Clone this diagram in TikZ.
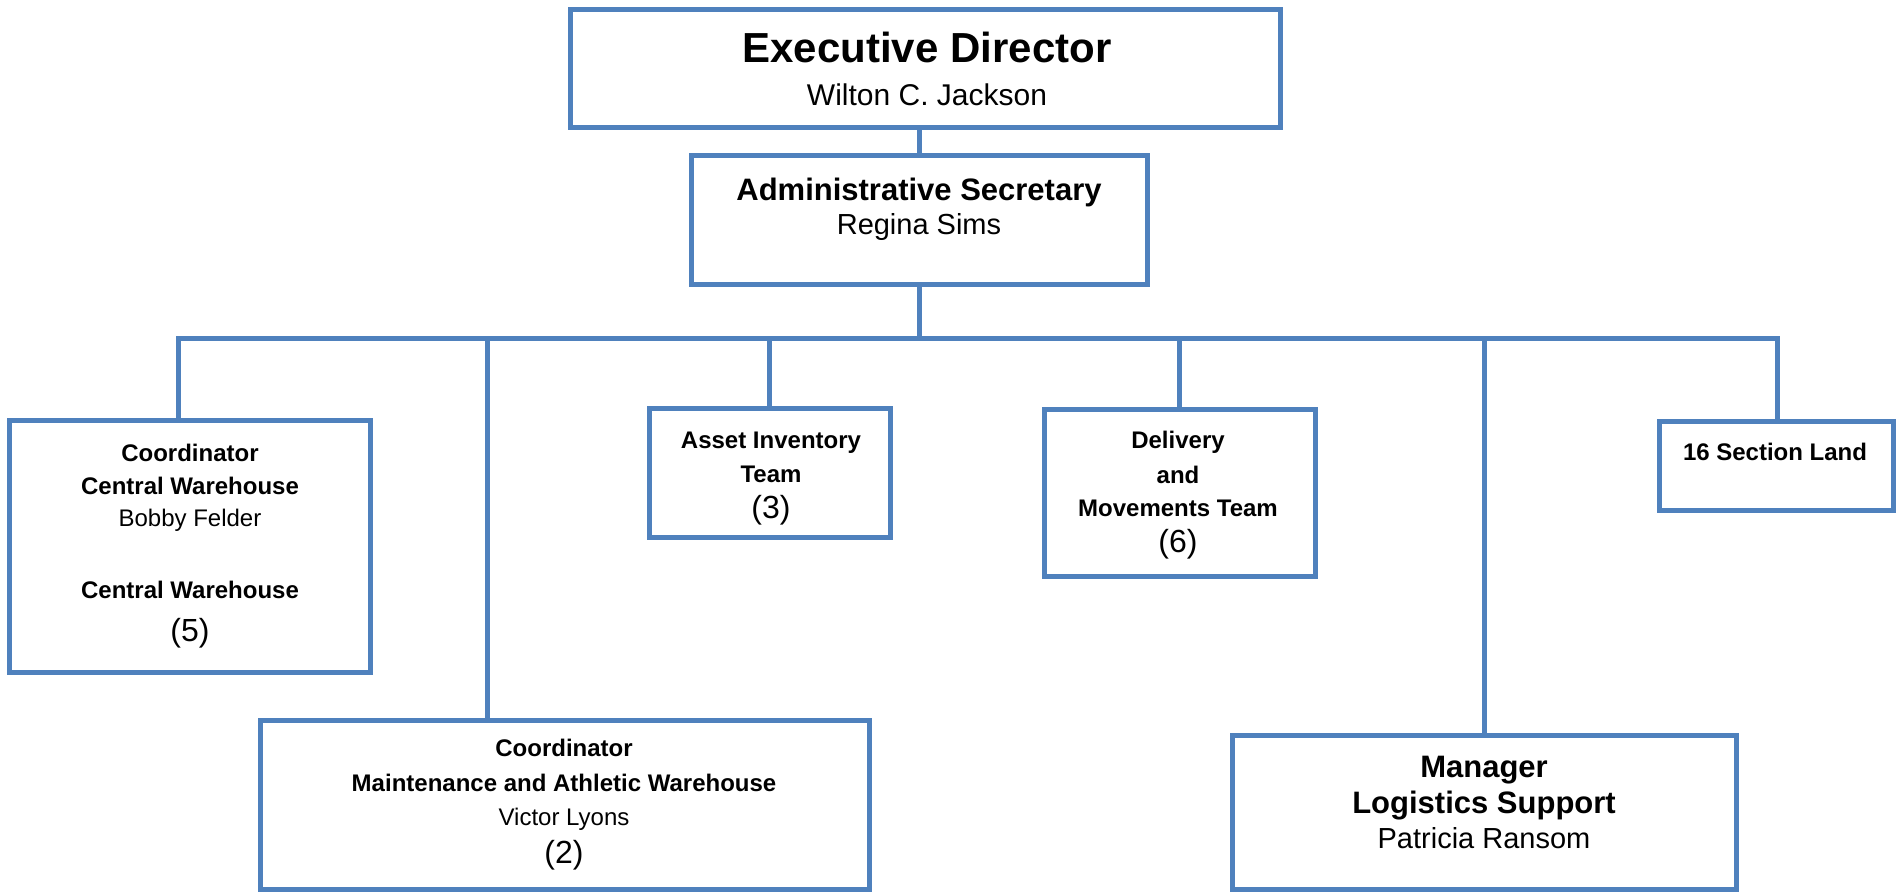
\documentclass[tikz,border=0pt]{standalone}
\usepackage{fontspec}
\setmainfont{Liberation Sans}
\usetikzlibrary{fit}
\definecolor{bblue}{HTML}{4F81BD}
\begin{document}
\begin{tikzpicture}[x=1pt,y=-1pt,
  box/.style={draw=bblue, line width=5pt, inner sep=0pt, outer sep=0pt},
  conn/.style={draw=bblue, line width=5pt},
  txt/.style={anchor=base, inner sep=0pt, outer sep=0pt, text=black},
  b42/.style={txt, font=\bfseries\fontsize{42}{48}\selectfont},
  r30/.style={txt, font=\fontsize{30}{36}\selectfont},
  b31/.style={txt, font=\bfseries\fontsize{31}{36}\selectfont},
  r29/.style={txt, font=\fontsize{29}{34}\selectfont},
  b24/.style={txt, font=\bfseries\fontsize{24}{28}\selectfont},
  r24/.style={txt, font=\fontsize{24}{28}\selectfont},
  n32/.style={txt, font=\fontsize{32}{36}\selectfont}]
\useasboundingbox (0,0) rectangle (1902,892);
\fill[white] (0,0) rectangle (1902,892);

% boxes
\node[box, fit={(570,9) (1280,127)}] (exec) {};
\node[box, fit={(691,155) (1147,284)}] (admin) {};
\node[box, fit={(9,420) (370,672)}] (cw) {};
\node[box, fit={(649,408) (890,537)}] (asset) {};
\node[box, fit={(1044,409) (1315,576)}] (deliv) {};
\node[box, fit={(1659,421) (1893,510)}] (sixteen) {};
\node[box, fit={(260,720) (869,889)}] (maint) {};
\node[box, fit={(1232,735) (1736,889)}] (mgr) {};

% connectors
\coordinate (busL) at (178,338);
\coordinate (busR) at (1777,338);
\coordinate (jm) at (487,338);
\draw[conn] (admin.north) -- (admin.north |- exec.south);
\draw[conn] (admin.south) -- (admin.south |- busL);
\draw[conn] (busL |- cw.north) -- (busL) -- (busR) -- (busR |- sixteen.north);
\draw[conn] (jm) -- (jm |- maint.north);
\draw[conn] (asset.north |- busL) -- (asset.north);
\draw[conn] (deliv.north |- busL) -- (deliv.north);
\draw[conn] (mgr.north |- busL) -- (mgr.north);

% texts
\node[b42] (execT) at (927,62) {Executive Director};
\node[r30] (execN) at (927,105) {Wilton C. Jackson};
\node[b31] (adminT) at (919,200) {Administrative Secretary};
\node[r29] (adminN) at (919,234) {Regina Sims};

\node[b24] (cwA) at (190,461) {Coordinator};
\node[b24] (cwB) at (190,494) {Central Warehouse};
\node[r24] (cwC) at (190,526) {Bobby Felder};
\node[b24] (cwD) at (190,598) {Central Warehouse};
\node[n32] (cwE) at (190,641) {(5)};

\node[b24] (assetA) at (771,448) {Asset Inventory};
\node[b24] (assetB) at (771,482) {Team};
\node[n32] (assetC) at (771,518) {(3)};

\node[b24] (delivA) at (1178,448) {Delivery};
\node[b24] (delivB) at (1178,483) {and};
\node[b24] (delivC) at (1178,516) {Movements Team};
\node[n32] (delivD) at (1178,552) {(6)};

\node[b24] (sixteenT) at (1775,460) {16 Section Land};

\node[b24] (maintA) at (564,756) {Coordinator};
\node[b24] (maintB) at (564,791) {Maintenance and Athletic Warehouse};
\node[r24] (maintC) at (564,825) {Victor Lyons};
\node[n32] (maintD) at (564,863) {(2)};

\node[b31] (mgrA) at (1484,777) {Manager};
\node[b31] (mgrB) at (1484,813) {Logistics Support};
\node[r29] (mgrC) at (1484,848) {Patricia Ransom};
\end{tikzpicture}
\end{document}
